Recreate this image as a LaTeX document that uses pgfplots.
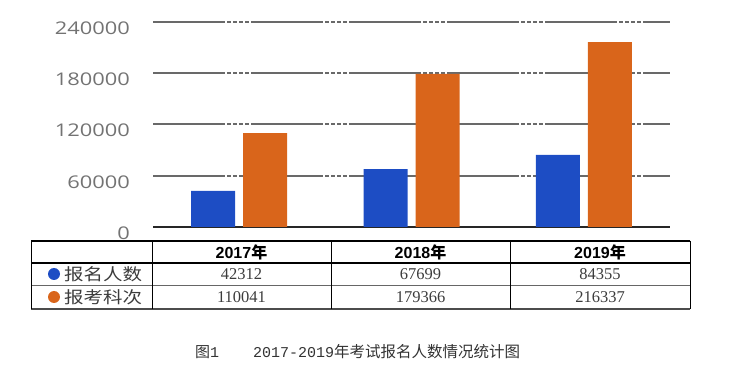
\documentclass[border=0pt]{standalone}
\usepackage{pgfplots}
\pgfplotsset{compat=1.18}
\usepackage{fontspec}
\setmainfont{Liberation Serif}
\newfontfamily\cjk{Noto Sans CJK SC}
\newfontfamily\cjkwide[FakeStretch=1.18]{Noto Sans CJK SC}
\newfontfamily\hdr{Liberation Sans}
\newfontfamily\tickf[FakeStretch=1.25]{Open Sans}
\newfontfamily\mono{Liberation Mono}
\definecolor{barblue}{RGB}{29,77,196}
\definecolor{barorange}{RGB}{217,101,27}
\definecolor{tickgray}{RGB}{115,115,115}
\definecolor{gridgray}{RGB}{105,105,105}
\definecolor{txtgray}{RGB}{60,60,60}
\begin{document}
\begin{tikzpicture}
\path[use as bounding box] (0,0) rectangle (743bp,382bp);
\begin{axis}[
  at={(153bp,155bp)}, anchor=south west,
  scale only axis, width=517bp, height=205bp,
  xmin=-0.5, xmax=2.5, ymin=0, ymax=240000,
  ybar=8bp, bar width=44bp,
  axis lines=left, axis line style={-},
  y axis line style={draw=none},
  x axis line style={draw=black!85, line width=2.4bp},
  xtick=\empty,
  ytick={0,60000,120000,180000,240000},
  yticklabels={0,60000,120000,180000,240000},
  scaled y ticks=false,
  major tick length=0pt,
  ytick style={draw=none},
  yticklabel style={font=\tickf\fontsize{17.5bp}{20bp}\selectfont, text=tickgray, inner sep=0pt, anchor=east, xshift=-23bp, yshift=-6bp},
  ymajorgrids,
  major grid style={draw=gridgray, line width=2bp, dash pattern=on 72bp off 2bp on 4bp off 2bp on 4bp off 2bp on 4bp off 2bp on 4bp off 2bp},
  clip=false,
]
\addplot[draw=none, fill=barblue] coordinates {(0,42312) (1,67699) (2,84355)};
\addplot[draw=none, fill=barorange] coordinates {(0,110041) (1,179366) (2,216337)};
\end{axis}
% table (y measured from top: y' = 382 - y)
\draw[black, line width=1.1bp] (31bp,141bp) -- (690bp,141bp);
\draw[black, line width=1.5bp] (31bp,119bp) -- (690bp,119bp);
\draw[black!60, line width=1bp] (31bp,96bp) -- (690bp,96bp);
\draw[black!70, line width=1.1bp] (31bp,73bp) -- (690bp,73bp);
\foreach \xx in {31,152,331,510,690}{
  \draw[black, line width=1bp] (\xx bp,141bp) -- (\xx bp,73bp);
}
\node[font=\hdr\bfseries\fontsize{16bp}{18bp}\selectfont] at (241.5bp,130bp) {2017{\cjk 年}};
\node[font=\hdr\bfseries\fontsize{16bp}{18bp}\selectfont] at (420.5bp,130bp) {2018{\cjk 年}};
\node[font=\hdr\bfseries\fontsize{16bp}{18bp}\selectfont] at (600bp,130bp) {2019{\cjk 年}};
\node[font=\fontsize{16.5bp}{18bp}\selectfont, text=txtgray] at (241.5bp,107.5bp) {42312};
\node[font=\fontsize{16.5bp}{18bp}\selectfont, text=txtgray] at (420.5bp,107.5bp) {67699};
\node[font=\fontsize{16.5bp}{18bp}\selectfont, text=txtgray] at (600bp,107.5bp) {84355};
\node[font=\fontsize{16.5bp}{18bp}\selectfont, text=txtgray] at (241.5bp,84.5bp) {110041};
\node[font=\fontsize{16.5bp}{18bp}\selectfont, text=txtgray] at (420.5bp,84.5bp) {179366};
\node[font=\fontsize{16.5bp}{18bp}\selectfont, text=txtgray] at (600bp,84.5bp) {216337};
\fill[barblue] (54bp,108bp) circle (6bp);
\fill[barorange] (54bp,85bp) circle (6bp);
\node[anchor=west, inner sep=0pt, font=\cjkwide\fontsize{16.5bp}{18bp}\selectfont, text=txtgray] at (64bp,107.5bp) {报名人数};
\node[anchor=west, inner sep=0pt, font=\cjkwide\fontsize{16.5bp}{18bp}\selectfont, text=txtgray] at (64bp,84.5bp) {报考科次};
% caption
\node[anchor=west, inner sep=0pt, font=\cjk\fontsize{15bp}{18bp}\selectfont, text=black!80] at (195bp,30bp) {图{\mono 1}};
\node[anchor=west, inner sep=0pt, font=\cjk\fontsize{15.5bp}{18bp}\selectfont, text=black!80] at (253bp,30bp) {{\mono\fontsize{15bp}{18bp}\selectfont 2017-2019}年考试报名人数情况统计图};
\end{tikzpicture}
\end{document}
